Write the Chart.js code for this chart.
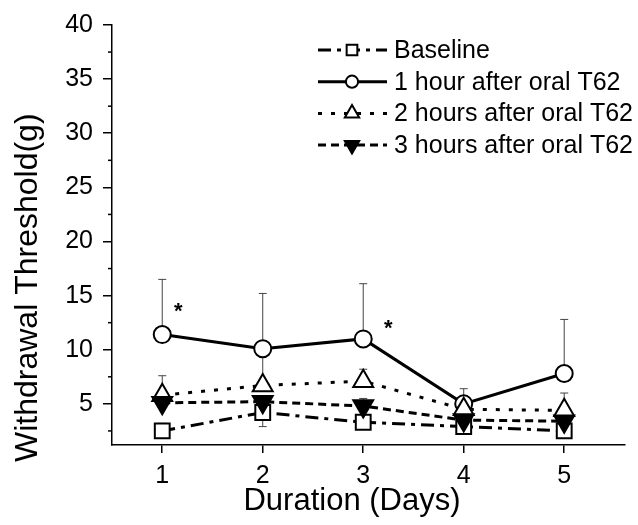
<!DOCTYPE html>
<html>
<head>
<meta charset="utf-8">
<script src="https://cdn.jsdelivr.net/npm/chart.js@4.4.1/dist/chart.umd.min.js"></script>
<style>
  html, body { margin: 0; padding: 0; background: #fff; }
  #wrap { width: 638px; height: 525px; }
</style>
</head>
<body>
<div id="wrap"><canvas id="chart" width="638" height="525"></canvas></div>
<script>
// ===============================
// DATA
// ===============================
const days = [1, 2, 3, 4, 5];
const seriesNames = ['Baseline', '1 hour after oral T62', '2 hours after oral T62', '3 hours after oral T62'];
const baseline = [2.5, 4.2, 3.3, 2.9, 2.5];
const hour1 = [11.4, 10.1, 11.0, 5.0, 7.8];
const hour2 = [5.8, 6.7, 7.1, 4.5, 4.4];
const hour3 = [5.1, 5.2, 4.8, 3.5, 3.4];

// error bars (upward; baseline both ways)
const baselineErr = [0.7, 1.3, 0.5, 0.5, 0.5];
const hour1Err = [5.1, 5.1, 5.1, 1.4, 5.0];
const hour2Err = [1.8, 2.7, 1.1, 0.5, 1.6];
const hour3Err = [0.4, 0.4, 0.7, 0.2, 0.2];

// significance marks
const starDays = [1.16, 3.25];
const starValues = [14.1, 12.5];

const xTicks = [1, 2, 3, 4, 5];
const yTicks = [5, 10, 15, 20, 25, 30, 35, 40];
const yMinorTicks = [2.5, 7.5, 12.5, 17.5, 22.5, 27.5, 32.5, 37.5];

// ===============================
// STYLES
// ===============================
const FONT = "'Liberation Sans', Arial, Helvetica, sans-serif";
const seriesValues = [baseline, hour1, hour2, hour3];
const seriesErrUp = [baselineErr, hour1Err, hour2Err, hour3Err];
const seriesErrDown = [baselineErr, null, null, null];
const styles = [
    { pointStyle: 'rect', radius: 10.5, dash: [13, 6, 4, 6], fill: '#fff', rotation: 0, order: 1 },
    { pointStyle: 'circle', radius: 8.5, dash: [], fill: '#fff', rotation: 0, order: 3 },
    { pointStyle: 'triangle', radius: 11.5, dash: [4, 9], fill: '#fff', rotation: 0, order: 2 },
    { pointStyle: 'triangle', radius: 11.5, dash: [8, 5], fill: '#000', rotation: 180, order: 0 }
];

const datasets = seriesValues.map((vals, i) => ({
    label: seriesNames[i],
    data: days.map((d, j) => ({ x: d, y: vals[j] })),
    borderColor: '#000',
    borderWidth: 3,
    borderDash: styles[i].dash,
    borderCapStyle: 'butt',
    pointStyle: styles[i].pointStyle,
    pointRadius: styles[i].radius,
    pointRotation: styles[i].rotation,
    pointBackgroundColor: styles[i].fill,
    pointBorderColor: '#000',
    pointBorderWidth: 2,
    tension: 0,
    fill: false,
    order: styles[i].order
}));

// ===============================
// DECORATION PLUGIN
// ===============================
function marker(ctx, st, x, y, scale) {
    ctx.save();
    ctx.setLineDash([]);
    ctx.lineWidth = 2;
    ctx.strokeStyle = '#000';
    ctx.fillStyle = st.fill;
    Chart.helpers.drawPoint(ctx, {
        pointStyle: st.pointStyle,
        radius: st.radius * scale,
        rotation: st.rotation,
        borderWidth: 2
    }, x, y);
    ctx.restore();
}

const decor = {
    id: 'decor',
    beforeDatasetsDraw(chart) {
        const ctx = chart.ctx;
        const xs = chart.scales.x, ys = chart.scales.y;
        ctx.save();
        ctx.strokeStyle = '#444';
        ctx.lineWidth = 1;
        seriesValues.forEach((vals, i) => {
            vals.forEach((v, j) => {
                const px = xs.getPixelForValue(days[j]);
                const py = ys.getPixelForValue(v);
                const ends = [ys.getPixelForValue(v + seriesErrUp[i][j])];
                if (seriesErrDown[i]) ends.push(ys.getPixelForValue(v - seriesErrDown[i][j]));
                ends.forEach(e => {
                    ctx.beginPath();
                    ctx.moveTo(px, py);
                    ctx.lineTo(px, e);
                    ctx.moveTo(px - 4, e);
                    ctx.lineTo(px + 4, e);
                    ctx.stroke();
                });
            });
        });
        ctx.restore();
    },
    afterDraw(chart) {
        const ctx = chart.ctx;
        const xs = chart.scales.x, ys = chart.scales.y;
        const area = chart.chartArea;
        ctx.save();

        // minor y ticks
        ctx.strokeStyle = '#000';
        ctx.lineWidth = 1.5;
        yMinorTicks.forEach(v => {
            const py = ys.getPixelForValue(v);
            ctx.beginPath();
            ctx.moveTo(area.left - 4, py);
            ctx.lineTo(area.left, py);
            ctx.stroke();
        });

        // asterisks
        ctx.fillStyle = '#000';
        ctx.font = 'bold 22px ' + FONT;
        ctx.textAlign = 'center';
        ctx.textBaseline = 'alphabetic';
        starDays.forEach((d, i) => {
            ctx.fillText('*', xs.getPixelForValue(d), ys.getPixelForValue(starValues[i]) + 12.5);
        });

        // axis titles
        ctx.font = '31px ' + FONT;
        ctx.fillText('Duration (Days)', 352, 510);
        ctx.save();
        ctx.translate(37, 462);
        ctx.rotate(-Math.PI / 2);
        ctx.textAlign = 'left';
        ctx.font = '32px ' + FONT;
        ctx.fillText('Withdrawal Threshold(g)', 0, 0);
        ctx.restore();

        // legend
        ctx.font = '25px ' + FONT;
        ctx.textAlign = 'left';
        ctx.textBaseline = 'middle';
        seriesNames.forEach((name, i) => {
            const y = 50 + i * 31.7;
            ctx.save();
            ctx.strokeStyle = '#000';
            ctx.lineWidth = 3;
            ctx.setLineDash(styles[i].dash);
            ctx.beginPath();
            ctx.moveTo(318, y);
            ctx.lineTo(387, y);
            ctx.stroke();
            ctx.restore();
            marker(ctx, styles[i], 352, y, 0.72);
            ctx.fillStyle = '#000';
            ctx.fillText(name, 394, y + 1);
        });
        ctx.restore();
    }
};

// ===============================
// CHART
// ===============================
new Chart(document.getElementById('chart').getContext('2d'), {
    type: 'line',
    data: { datasets: datasets },
    options: {
        responsive: false,
        animation: false,
        devicePixelRatio: 1,
        layout: { padding: { top: 20, right: 0, bottom: 0, left: 0 } },
        plugins: {
            legend: { display: false },
            tooltip: { enabled: false }
        },
        scales: {
            x: {
                type: 'linear',
                min: 0.5,
                max: 5.6,
                afterBuildTicks: s => { s.ticks = xTicks.map(v => ({ value: v })); },
                afterFit: s => { s.height = 80; },
                grid: { drawOnChartArea: false, drawTicks: true, tickLength: 8, color: '#000', lineWidth: 1.5 },
                border: { display: true, color: '#000', width: 1.5 },
                ticks: { color: '#000', font: { family: FONT, size: 25 }, padding: 8, maxRotation: 0 }
            },
            y: {
                type: 'linear',
                min: 1.2,
                max: 40,
                afterBuildTicks: s => { s.ticks = yTicks.map(v => ({ value: v })); },
                afterFit: s => { s.width = 112; },
                grid: { drawOnChartArea: false, drawTicks: true, tickLength: 9, color: '#000', lineWidth: 1.5 },
                border: { display: true, color: '#000', width: 1.5 },
                ticks: { color: '#000', font: { family: FONT, size: 25 }, padding: 10 }
            }
        }
    },
    plugins: [decor]
});
</script>
</body>
</html>
